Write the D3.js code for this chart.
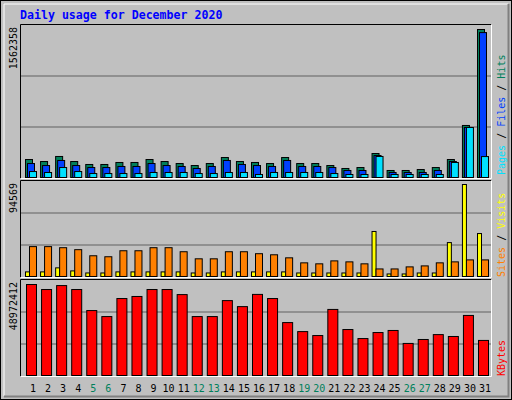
<!DOCTYPE html>
<html>
<head>
<meta charset="utf-8">
<script src="https://cdn.jsdelivr.net/npm/d3@7"></script>
<style>
body { margin: 0; background: #fff; }
text { font-family: "DejaVu Sans Mono", monospace; }
</style>
</head>
<body>
<div id="chart"></div>
<script>
// data
var days = d3.range(1, 32);
var weekends = [5, 6, 12, 13, 19, 20, 26, 27];
var hits = [199000, 178000, 231000, 178000, 147000, 147000, 168000, 168000, 199000, 178000,
  157000, 136000, 157000, 220000, 178000, 168000, 157000, 220000, 157000, 157000,
  136000, 105000, 115000, 262000, 84000, 84000, 94000, 115000, 199000, 556000, 1562358];
var files = [157000, 136000, 189000, 136000, 115000, 115000, 126000, 126000, 157000, 136000,
  126000, 105000, 126000, 189000, 147000, 136000, 126000, 189000, 126000, 126000,
  115000, 84000, 84000, 241000, 63000, 63000, 63000, 84000, 178000, 535000, 1530000];
var pages = [73000, 63000, 115000, 73000, 52000, 52000, 52000, 52000, 63000, 63000,
  63000, 52000, 52000, 63000, 63000, 42000, 63000, 63000, 63000, 63000,
  52000, 42000, 42000, 231000, 42000, 42000, 42000, 42000, 168000, 535000, 230000];
var visits = [5700, 5700, 9800, 6700, 4600, 4600, 5700, 5700, 5700, 5700,
  5700, 4600, 4600, 5700, 5700, 5700, 5700, 5700, 4600, 4600,
  4600, 4600, 4600, 46800, 3600, 3600, 4600, 4600, 35500, 94569, 44700];
var sites = [31400, 31400, 30300, 28300, 22100, 21100, 27200, 27200, 30300, 30300,
  26200, 19000, 19000, 26200, 26200, 24200, 23100, 20000, 14900, 13900,
  16900, 15900, 13900, 8700, 8700, 10800, 11800, 14900, 15900, 17900, 17900];
var kbytes = [48972412, 46300000, 48400000, 46300000, 35100000, 31900000, 41500000, 42600000, 46300000, 46300000,
  43600000, 31900000, 31900000, 40400000, 37200000, 43700000, 41500000, 28700000, 23900000, 21800000,
  35700000, 25000000, 20200000, 23400000, 24500000, 17600000, 19700000, 22300000, 21300000, 32500000, 19200000];

var W = 512, H = 400;
var svg = d3.select("#chart").append("svg").attr("width", W).attr("height", H);

// background & bevel
svg.append("rect").attr("x", 0).attr("y", 0).attr("width", W).attr("height", H).attr("fill", "#000");
svg.append("rect").attr("x", 1).attr("y", 1).attr("width", W - 2).attr("height", H - 2).attr("fill", "#c0c0c0");
svg.append("path").attr("d", "M4,396V4H508").attr("stroke", "#fff").attr("stroke-width", 1).attr("fill", "none");
svg.append("path").attr("d", "M4,396.5H508.5V4").attr("stroke", "#808080").attr("stroke-width", 2).attr("fill", "none");

svg.append("text").attr("x", 20).attr("y", 19).attr("fill", "#0000ff")
  .attr("font-size", 11.6).attr("font-weight", "bold").text("Daily usage for December 2020");

var x = d3.scaleLinear().domain([1, 31]).range([33, 485]);
var left = 21, right = 491;

function panel(top, bottom) {
  var g = svg.append("g");
  g.append("path").attr("d", `M${left - 0.5},${bottom}V${top - 0.5}H${right}`)
    .attr("stroke", "#000").attr("fill", "none");
  g.append("path").attr("d", `M${left},${bottom + 0.5}H${right + 0.5}V${top}`)
    .attr("stroke", "#fff").attr("fill", "none");
  var step = (bottom - top) / 3;
  [1, 2].forEach(function(i) {
    g.append("line").attr("x1", left).attr("x2", right)
      .attr("y1", top + step * i).attr("y2", top + step * i)
      .attr("stroke", "#808080").attr("stroke-width", 1.5);
  });
  return g;
}

function bars(g, data, y, dx, w, color) {
  g.selectAll(null).data(data).enter().append("rect")
    .attr("x", (d, i) => x(days[i]) + dx + 0.5)
    .attr("y", d => y(d) + 0.5)
    .attr("width", w - 1)
    .attr("height", d => y(0) - y(d) - 1)
    .attr("fill", color).attr("stroke", "#000").attr("stroke-width", 1);
}

function yLabel(text, top) {
  svg.append("text").attr("transform", `translate(17,${top + 2}) rotate(-90)`)
    .attr("text-anchor", "end").attr("font-size", 10).attr("fill", "#000").text(text);
}

function rightLabel(parts, bottom) {
  var t = svg.append("text").attr("transform", `translate(505,${bottom}) rotate(-90)`)
    .attr("font-size", 10);
  parts.forEach(function(p) { t.append("tspan").attr("fill", p[1]).text(p[0]); });
}

// panel 1: hits / files / pages
var p1 = panel(25, 178);
var y1 = d3.scaleLinear().domain([0, 1562358]).range([178, 29]);
bars(p1, hits, y1, -8, 8, "#00805c");
bars(p1, files, y1, -6, 8, "#0040ff");
bars(p1, pages, y1, -4, 8, "#00e0ff");
yLabel("1562358", 25);
rightLabel([["Pages", "#00e0ff"], [" / ", "#000"], ["Files", "#0040ff"], [" / ", "#000"], ["Hits", "#00805c"]], 175);

// panel 2: visits / sites
var p2 = panel(181, 277);
var y2 = d3.scaleLinear().domain([0, 94569]).range([277, 184]);
bars(p2, visits, y2, -8, 5, "#ffff00");
bars(p2, sites, y2, -4, 8, "#ff8000");
yLabel("94569", 181);
rightLabel([["Sites", "#ff8000"], [" / ", "#000"], ["Visits", "#ffff00"]], 277);

// panel 3: kbytes
var p3 = panel(280, 376);
var y3 = d3.scaleLinear().domain([0, 48972412]).range([376, 284]);
bars(p3, kbytes, y3, -7, 11, "#ff0000");
yLabel("48972412", 280);
rightLabel([["KBytes", "#ff0000"]], 376);

// day labels
svg.selectAll(null).data(days).enter().append("text")
  .attr("x", d => x(d)).attr("y", 392).attr("text-anchor", "middle")
  .attr("font-size", 10)
  .attr("fill", d => weekends.indexOf(d) >= 0 ? "#00805c" : "#000")
  .text(d => d);
</script>
</body>
</html>
